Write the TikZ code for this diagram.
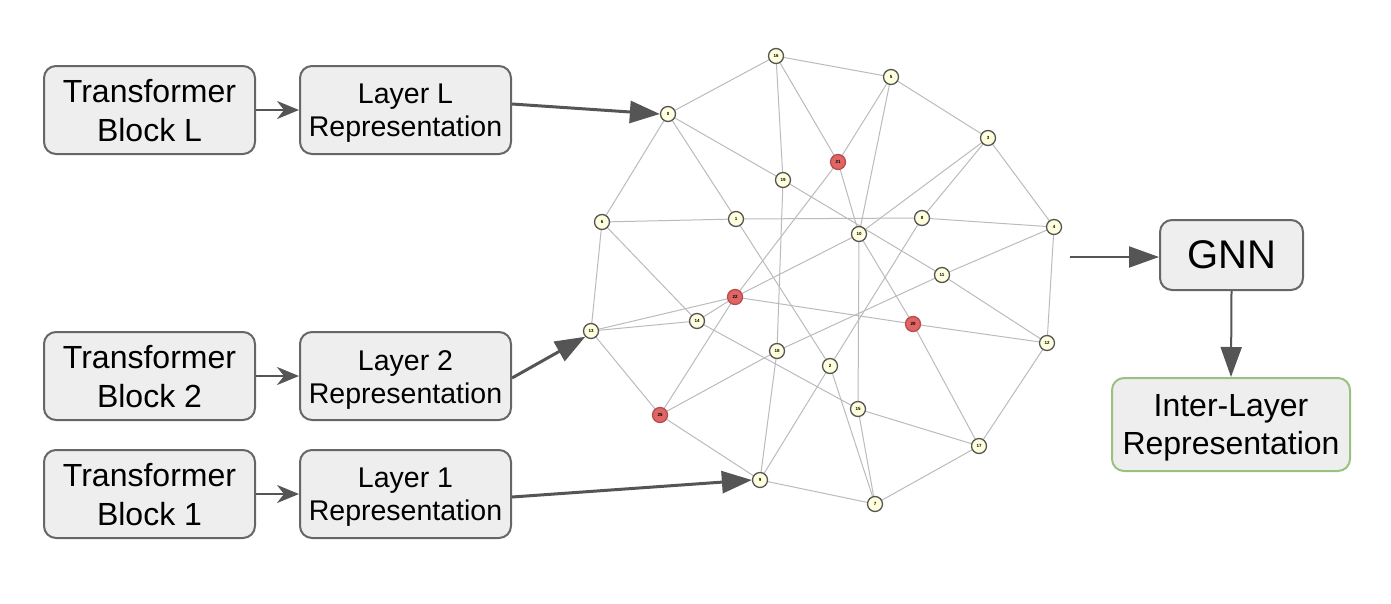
\documentclass[tikz,border=0pt]{standalone}
\usepackage{fontspec}
\setmainfont{Liberation Sans}
\usetikzlibrary{arrows.meta}
\definecolor{boxfill}{HTML}{EEEEEE}
\definecolor{boxline}{HTML}{666666}
\definecolor{arrowc}{HTML}{555555}
\definecolor{greenline}{HTML}{97C27F}
\definecolor{nodefill}{HTML}{FFFFDD}
\definecolor{redfill}{HTML}{E06666}
\definecolor{redline}{HTML}{B84C4C}
\definecolor{edgec}{HTML}{BBBBBB}
\tikzset{
  blockbox/.style={draw=boxline, fill=boxfill, line width=2pt, rounded corners=12pt, inner sep=0pt},
  boxtext/.style={align=center, inner sep=0pt},
  gnode/.style={circle, draw=arrowc, fill=nodefill, line width=1.3pt, minimum size=15pt, inner sep=0pt, font=\fontsize{4.5}{5}\selectfont\bfseries},
  rnode/.style={gnode, draw=redline, fill=redfill},
  gedge/.style={draw=edgec, line width=1pt},
  smallarrow/.style={draw=arrowc, line width=2.5pt, -{Stealth[length=22pt,width=18pt,inset=7pt]}},
  bigarrow/.style={draw=arrowc, line width=3pt, -{Triangle[length=30pt,width=22pt]}},
  midarrow/.style={draw=arrowc, line width=2pt, -{Triangle[length=30pt,width=21pt]}}
}
\begin{document}
\begin{tikzpicture}[x=1pt,y=-1pt]
\useasboundingbox (0,0) rectangle (1391,603);
% left boxes
\node[blockbox, minimum width=211pt, minimum height=88pt] (tbL) at (149.5,110) {};
\node[blockbox, minimum width=211pt, minimum height=88pt] (lrL) at (405.5,110) {};
\node[blockbox, minimum width=211pt, minimum height=88pt] (tb2) at (149.5,376) {};
\node[blockbox, minimum width=211pt, minimum height=88pt] (lr2) at (405.5,376) {};
\node[blockbox, minimum width=211pt, minimum height=88pt] (tb1) at (149.5,494) {};
\node[blockbox, minimum width=211pt, minimum height=88pt] (lr1) at (405.5,494) {};
\node[boxtext, font=\fontsize{32}{39}\selectfont] (tbLt) at (149.5,111) {Transformer\\Block L};
\node[boxtext, font=\fontsize{28.5}{33}\selectfont] (lrLt) at (405.5,113.5) {Layer L\\Representation};
\node[boxtext, font=\fontsize{32}{39}\selectfont] (tb2t) at (149.5,377) {Transformer\\Block 2};
\node[boxtext, font=\fontsize{28.5}{33}\selectfont] (lr2t) at (405.5,379.5) {Layer 2\\Representation};
\node[boxtext, font=\fontsize{32}{39}\selectfont] (tb1t) at (149.5,495) {Transformer\\Block 1};
\node[boxtext, font=\fontsize{28.5}{33}\selectfont] (lr1t) at (405.5,497.5) {Layer 1\\Representation};
% right boxes
\node[blockbox, minimum width=143pt, minimum height=70pt, font=\fontsize{40}{46}\selectfont] (gnn) at (1231.5,255) {GNN};
\node[blockbox, draw=greenline, minimum width=238pt, minimum height=93pt] (ilr) at (1231,424.5) {};
\node[boxtext, font=\fontsize{32}{38}\selectfont] (ilrt) at (1231,427.5) {Inter-Layer\\Representation};
% graph nodes (positions)
\coordinate (n16) at (776,56);
\coordinate (n5) at (891,77);
\coordinate (n3) at (988,138);
\coordinate (n0) at (668,114);
\coordinate (n21) at (838,162);
\coordinate (n19) at (783,180);
\coordinate (n6) at (602,222);
\coordinate (n1) at (736,219);
\coordinate (n8) at (922,218);
\coordinate (n10) at (859,234);
\coordinate (n4) at (1054,227);
\coordinate (n11) at (942,275);
\coordinate (n22) at (735,297);
\coordinate (n14) at (697,321);
\coordinate (n13) at (591,331);
\coordinate (n20) at (913,324);
\coordinate (n12) at (1047,343);
\coordinate (n18) at (777,351);
\coordinate (n2) at (830,366);
\coordinate (n26) at (660,415);
\coordinate (n15) at (858,409);
\coordinate (n17) at (979,446);
\coordinate (n9) at (760,480);
\coordinate (n7) at (875,504);
% graph edges
\foreach \a/\b in {0/16,0/6,0/1,0/19,16/5,16/19,16/21,5/3,5/21,5/10,3/4,3/10,3/8,8/4,1/8,6/1,21/10,21/22,19/18,19/11,6/13,6/14,13/14,13/22,13/26,22/14,22/10,22/20,22/26,1/2,2/7,8/2,2/9,4/11,4/12,11/12,10/20,10/15,20/12,20/17,12/17,18/11,18/26,18/9,14/15,15/17,15/7,26/9,9/7,7/17}
  \draw[gedge] (n\a) -- (n\b);
% nodes on top
\foreach \n in {16,5,3,0,19,6,1,8,10,4,11,14,13,12,18,2,15,17,9,7}
  \node[gnode] (v\n) at (n\n) {\n};
\foreach \n in {21,22,20,26}
  \node[rnode] (v\n) at (n\n) {\n};
% arrows
\draw[smallarrow] (tbL.east) -- (lrL.west);
\draw[smallarrow] (tb2.east) -- (lr2.west);
\draw[smallarrow] (tb1.east) -- (lr1.west);
\coordinate (gout) at (1070,257);
\draw[bigarrow] (lrL.east |- 0,104) -- (v0.west);
\draw[bigarrow] (lr2.east |- 0,378) -- (v13.south west);
\draw[bigarrow] (lr1.east |- 0,497) -- (v9.west);
\draw[midarrow] (gout) -- (gnn.west |- gout);
\draw[midarrow] (gnn.south) -- (ilr.north);
\end{tikzpicture}
\end{document}
